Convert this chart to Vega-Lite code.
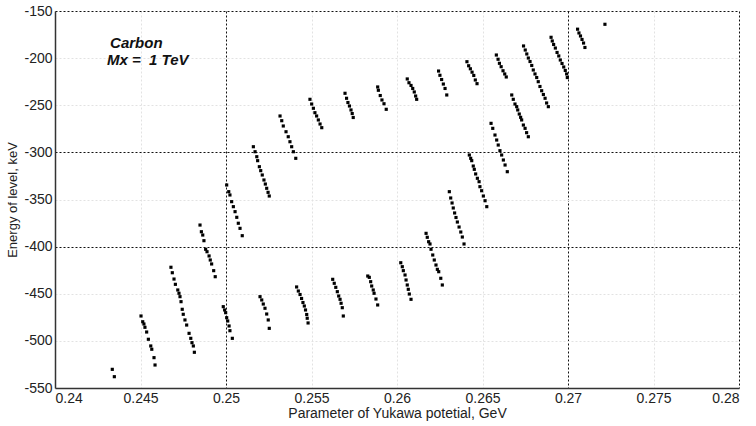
{
  "$schema": "https://vega.github.io/schema/vega-lite/v6.json",
  "width": 684,
  "height": 377,
  "autosize": {"type": "none"},
  "padding": {"left": 55, "top": 11, "right": 17, "bottom": 38},
  "background": "white",
  "config": {"view": {"stroke": null}, "font": "Liberation Sans"},
  "datasets": {
    "pts": [
      {"x":0.24335,"y":-530.2},{"x":0.24347,"y":-538.0},
      {"x":0.24503,"y":-473.6},{"x":0.24513,"y":-479.7},{"x":0.24520,"y":-482.1},{"x":0.24526,"y":-485.6},{"x":0.24536,"y":-490.6},{"x":0.24546,"y":-498.3},{"x":0.24560,"y":-505.4},{"x":0.24566,"y":-508.9},{"x":0.24579,"y":-517.8},{"x":0.24585,"y":-525.6},
      {"x":0.24678,"y":-421.9},{"x":0.24686,"y":-427.7},{"x":0.24696,"y":-434.4},{"x":0.24704,"y":-440.0},{"x":0.24718,"y":-446.0},{"x":0.24725,"y":-449.5},{"x":0.24731,"y":-453.1},{"x":0.24737,"y":-458.4},{"x":0.24744,"y":-466.5},{"x":0.24750,"y":-471.8},{"x":0.24760,"y":-477.8},{"x":0.24770,"y":-483.2},{"x":0.24784,"y":-492.0},{"x":0.24794,"y":-497.3},{"x":0.24801,"y":-501.9},{"x":0.24809,"y":-505.4},{"x":0.24815,"y":-512.1},
      {"x":0.24848,"y":-377.1},{"x":0.24856,"y":-384.2},{"x":0.24864,"y":-387.7},{"x":0.24871,"y":-393.7},{"x":0.24881,"y":-402.8},{"x":0.24889,"y":-405.4},{"x":0.24901,"y":-409.9},{"x":0.24908,"y":-414.2},{"x":0.24916,"y":-418.4},{"x":0.24928,"y":-425.5},{"x":0.24937,"y":-431.9},
      {"x":0.24984,"y":-463.7},{"x":0.24992,"y":-467.2},{"x":0.24998,"y":-470.1},{"x":0.25004,"y":-475.4},{"x":0.25010,"y":-478.9},{"x":0.25018,"y":-484.2},{"x":0.25023,"y":-489.2},{"x":0.25037,"y":-497.3},
      {"x":0.25004,"y":-334.6},{"x":0.25016,"y":-341.7},{"x":0.25023,"y":-345.2},{"x":0.25033,"y":-352.3},{"x":0.25043,"y":-357.6},{"x":0.25053,"y":-362.9},{"x":0.25063,"y":-368.9},{"x":0.25072,"y":-375.2},{"x":0.25082,"y":-380.6},{"x":0.25095,"y":-388.4},
      {"x":0.25160,"y":-294.0},{"x":0.25170,"y":-299.3},{"x":0.25180,"y":-304.6},{"x":0.25185,"y":-308.8},{"x":0.25195,"y":-315.2},{"x":0.25203,"y":-319.4},{"x":0.25212,"y":-324.0},{"x":0.25222,"y":-329.3},{"x":0.25230,"y":-333.6},{"x":0.25238,"y":-338.1},{"x":0.25246,"y":-342.4},{"x":0.25253,"y":-346.3},
      {"x":0.25199,"y":-453.1},{"x":0.25209,"y":-456.6},{"x":0.25218,"y":-460.9},{"x":0.25228,"y":-465.4},{"x":0.25238,"y":-471.5},{"x":0.25247,"y":-477.8},{"x":0.25253,"y":-486.7},
      {"x":0.25316,"y":-261.4},{"x":0.25326,"y":-266.4},{"x":0.25335,"y":-272.0},{"x":0.25351,"y":-278.1},{"x":0.25364,"y":-283.4},{"x":0.25374,"y":-288.7},{"x":0.25384,"y":-294.0},{"x":0.25394,"y":-299.3},{"x":0.25408,"y":-306.3},
      {"x":0.25413,"y":-442.8},{"x":0.25423,"y":-447.1},{"x":0.25433,"y":-450.8},{"x":0.25442,"y":-455.0},{"x":0.25450,"y":-459.3},{"x":0.25458,"y":-463.0},{"x":0.25465,"y":-467.2},{"x":0.25472,"y":-472.0},{"x":0.25475,"y":-476.0},{"x":0.25480,"y":-481.0},
      {"x":0.25491,"y":-243.7},{"x":0.25501,"y":-248.7},{"x":0.25511,"y":-253.2},{"x":0.25520,"y":-257.9},{"x":0.25530,"y":-261.4},{"x":0.25540,"y":-265.6},{"x":0.25550,"y":-269.9},{"x":0.25560,"y":-273.8},
      {"x":0.25624,"y":-434.7},{"x":0.25633,"y":-438.9},{"x":0.25642,"y":-443.2},{"x":0.25651,"y":-447.8},{"x":0.25659,"y":-452.4},{"x":0.25667,"y":-455.9},{"x":0.25673,"y":-460.1},{"x":0.25680,"y":-464.8},{"x":0.25686,"y":-473.6},
      {"x":0.25696,"y":-237.3},{"x":0.25705,"y":-242.6},{"x":0.25713,"y":-247.1},{"x":0.25722,"y":-250.8},{"x":0.25731,"y":-255.0},{"x":0.25738,"y":-258.8},{"x":0.25744,"y":-263.0},
      {"x":0.25829,"y":-431.2},{"x":0.25838,"y":-432.6},{"x":0.25846,"y":-437.2},{"x":0.25852,"y":-441.8},{"x":0.25861,"y":-446.0},{"x":0.25866,"y":-449.5},{"x":0.25877,"y":-455.6},{"x":0.25887,"y":-461.9},
      {"x":0.25887,"y":-230.6},{"x":0.25891,"y":-234.1},{"x":0.25902,"y":-239.7},{"x":0.25912,"y":-244.4},{"x":0.25924,"y":-248.4},{"x":0.25937,"y":-254.3},
      {"x":0.26022,"y":-417.1},{"x":0.26031,"y":-421.3},{"x":0.26037,"y":-425.5},{"x":0.26047,"y":-430.1},{"x":0.26053,"y":-435.4},{"x":0.26060,"y":-440.7},{"x":0.26066,"y":-445.3},{"x":0.26072,"y":-450.3},{"x":0.26082,"y":-455.9},
      {"x":0.26060,"y":-222.1},{"x":0.26070,"y":-226.1},{"x":0.26082,"y":-229.0},{"x":0.26092,"y":-232.2},{"x":0.26101,"y":-235.9},{"x":0.26109,"y":-240.2},{"x":0.26115,"y":-243.7},
      {"x":0.26170,"y":-385.9},{"x":0.26177,"y":-390.1},{"x":0.26185,"y":-394.8},{"x":0.26193,"y":-397.2},{"x":0.26199,"y":-402.8},{"x":0.26209,"y":-408.9},{"x":0.26218,"y":-414.2},{"x":0.26228,"y":-419.5},{"x":0.26236,"y":-424.1},{"x":0.26244,"y":-426.6},{"x":0.26256,"y":-433.6},{"x":0.26265,"y":-440.7},
      {"x":0.26243,"y":-213.7},{"x":0.26251,"y":-218.2},{"x":0.26261,"y":-222.7},{"x":0.26271,"y":-227.5},{"x":0.26281,"y":-232.2},{"x":0.26291,"y":-239.1},
      {"x":0.26306,"y":-341.7},{"x":0.26314,"y":-348.4},{"x":0.26322,"y":-353.7},{"x":0.26329,"y":-359.0},{"x":0.26337,"y":-364.3},{"x":0.26345,"y":-369.1},{"x":0.26353,"y":-373.9},{"x":0.26363,"y":-379.2},{"x":0.26373,"y":-384.5},{"x":0.26382,"y":-389.8},{"x":0.26392,"y":-397.2},
      {"x":0.26409,"y":-203.8},{"x":0.26419,"y":-208.1},{"x":0.26429,"y":-211.3},{"x":0.26439,"y":-214.9},{"x":0.26449,"y":-218.4},{"x":0.26458,"y":-223.2},{"x":0.26468,"y":-227.1},
      {"x":0.26423,"y":-302.8},{"x":0.26431,"y":-306.3},{"x":0.26437,"y":-308.8},{"x":0.26446,"y":-314.5},{"x":0.26452,"y":-318.0},{"x":0.26460,"y":-322.9},{"x":0.26470,"y":-327.5},{"x":0.26480,"y":-331.1},{"x":0.26485,"y":-336.4},{"x":0.26495,"y":-340.7},{"x":0.26505,"y":-346.3},{"x":0.26515,"y":-351.3},{"x":0.26525,"y":-357.6},
      {"x":0.26581,"y":-196.7},{"x":0.26591,"y":-201.2},{"x":0.26599,"y":-205.5},{"x":0.26609,"y":-209.1},{"x":0.26620,"y":-213.4},{"x":0.26630,"y":-216.8},{"x":0.26639,"y":-220.0},
      {"x":0.26550,"y":-269.2},{"x":0.26560,"y":-274.5},{"x":0.26573,"y":-281.6},{"x":0.26583,"y":-286.9},{"x":0.26592,"y":-292.2},{"x":0.26602,"y":-298.2},{"x":0.26612,"y":-302.8},{"x":0.26622,"y":-308.1},{"x":0.26632,"y":-313.4},{"x":0.26645,"y":-320.5},
      {"x":0.26740,"y":-187.1},{"x":0.26750,"y":-191.4},{"x":0.26759,"y":-195.6},{"x":0.26768,"y":-199.9},{"x":0.26778,"y":-203.6},{"x":0.26788,"y":-207.8},{"x":0.26797,"y":-212.6},{"x":0.26807,"y":-216.8},{"x":0.26817,"y":-220.6},{"x":0.26826,"y":-225.0},{"x":0.26836,"y":-230.1},{"x":0.26846,"y":-234.6},{"x":0.26856,"y":-238.6},{"x":0.26866,"y":-242.6},{"x":0.26875,"y":-247.6},{"x":0.26885,"y":-251.5},
      {"x":0.26671,"y":-239.1},{"x":0.26680,"y":-243.7},{"x":0.26690,"y":-248.7},{"x":0.26700,"y":-251.5},{"x":0.26706,"y":-255.0},{"x":0.26715,"y":-259.3},{"x":0.26723,"y":-262.8},{"x":0.26729,"y":-265.6},{"x":0.26739,"y":-271.0},{"x":0.26749,"y":-274.5},{"x":0.26758,"y":-279.1},{"x":0.26768,"y":-283.4},
      {"x":0.26901,"y":-177.9},{"x":0.26908,"y":-181.8},{"x":0.26916,"y":-185.5},{"x":0.26926,"y":-189.3},{"x":0.26936,"y":-194.0},{"x":0.26946,"y":-197.7},{"x":0.26955,"y":-202.0},{"x":0.26965,"y":-205.7},{"x":0.26975,"y":-209.4},{"x":0.26984,"y":-213.1},{"x":0.26992,"y":-216.8},{"x":0.26996,"y":-220.6},
      {"x":0.27056,"y":-169.3},{"x":0.27064,"y":-173.3},{"x":0.27073,"y":-176.5},{"x":0.27082,"y":-180.2},{"x":0.27091,"y":-184.0},{"x":0.27099,"y":-188.7},
      {"x":0.27216,"y":-164.1}
    ],
    "notes": [
      {"label": "Carbon", "x": 0.24322, "y": -189.3},
      {"label": "Mx = \u00a01 TeV", "x": 0.24304, "y": -207.3}
    ]
  },
  "layer": [
    {
      "data": {"name": "pts"},
      "mark": {"type": "square", "size": 10, "color": "black", "opacity": 1},
      "encoding": {
        "x": {
          "field": "x", "type": "quantitative",
          "scale": {"domain": [0.24, 0.28], "nice": false, "zero": false},
          "axis": {
            "values": [0.24, 0.245, 0.25, 0.255, 0.26, 0.265, 0.27, 0.275, 0.28],
            "format": "~g",
            "grid": true,
            "gridDash": [2, 2],
            "gridColor": {"condition": {"test": "datum.value == 0.25 || datum.value == 0.27 || datum.value == 0.28", "value": "#111"}, "value": "#e2e2e2"},
            "gridOpacity": 1,
            "domain": true, "domainColor": "#333", "domainWidth": 1.5,
            "ticks": false,
            "labelFontSize": 14, "labelColor": "#222", "labelPadding": 3,
            "title": "Parameter of Yukawa potetial, GeV",
            "titleFontSize": 14, "titleFontWeight": "normal", "titleColor": "#222", "titlePadding": 1
          }
        },
        "y": {
          "field": "y", "type": "quantitative",
          "scale": {"domain": [-550, -150], "nice": false, "zero": false},
          "axis": {
            "values": [-550, -500, -450, -400, -350, -300, -250, -200, -150],
            "labelExpr": "'' + datum.value",
            "grid": true,
            "gridDash": [2, 2],
            "gridColor": {"condition": {"test": "datum.value == -300 || datum.value == -400 || datum.value == -150", "value": "#111"}, "value": "#e2e2e2"},
            "gridOpacity": 1,
            "domain": true, "domainColor": "#333", "domainWidth": 1.5,
            "ticks": false,
            "labelFontSize": 14, "labelColor": "#222", "labelPadding": 3,
            "title": "Energy of level, keV",
            "titleFontSize": 13, "titleFontWeight": "normal", "titleColor": "#222", "titlePadding": 4
          }
        }
      }
    },
    {
      "data": {"name": "notes"},
      "mark": {"type": "text", "align": "left", "baseline": "alphabetic", "fontSize": 15, "fontWeight": "bold", "fontStyle": "italic", "color": "#111"},
      "encoding": {
        "x": {"field": "x", "type": "quantitative"},
        "y": {"field": "y", "type": "quantitative"},
        "text": {"field": "label"}
      }
    }
  ]
}
